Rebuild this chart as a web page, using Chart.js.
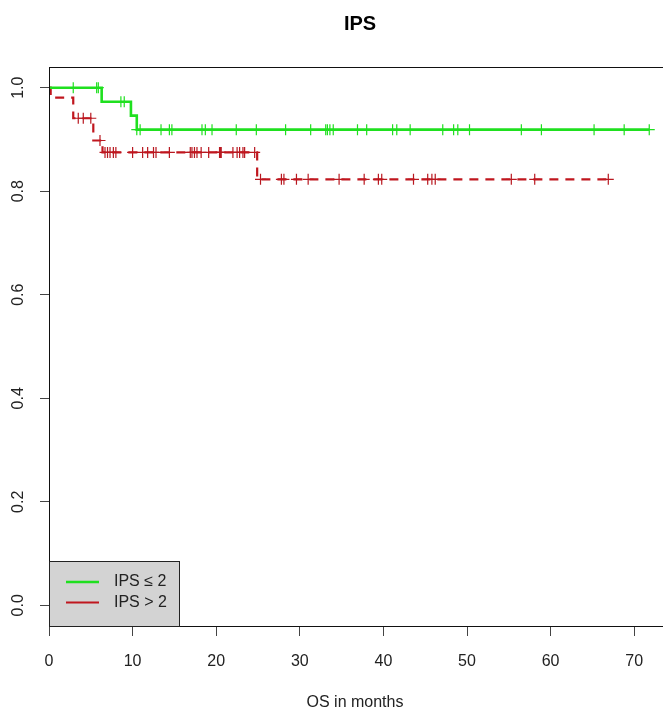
<!DOCTYPE html>
<html><head><meta charset="utf-8">
<script src="https://cdn.jsdelivr.net/npm/chart.js@4.4.1/dist/chart.umd.min.js"></script>
<style>
html,body{margin:0;padding:0;background:#fff;overflow:hidden;width:663px;height:713px}
#wrap{position:relative;width:700px;height:713px}
</style>
</head><body><div id="wrap"><canvas id="c" width="700" height="713"></canvas></div>
<script>
const chartTitle = "IPS";
const xAxisTitle = "OS in months";
const seriesNames = ["IPS \u2264 2", "IPS > 2"];
const xTicks = [0, 10, 20, 30, 40, 50, 60, 70];
const yTicks = [0, 0.2, 0.4, 0.6, 0.8, 1.0];
const yTickLabels = ["0.0", "0.2", "0.4", "0.6", "0.8", "1.0"];

// IPS <= 2 : step points (event times and survival after)
const lowTimes = [0, 6.3, 9.8, 10.5, 71.8];
const lowSurv = [1, 0.973, 0.946, 0.919, 0.919];
const lowCensor = [2.9, 5.7, 5.9, 8.6, 9.0, 10.5, 10.9, 13.4, 14.4, 14.7, 18.3, 18.7, 19.5, 22.4, 24.8,
  28.3, 31.3, 33.1, 33.3, 33.6, 34.0, 36.9, 38.0, 41.1, 41.6, 43.2, 47.1, 48.4, 48.9, 50.3, 56.5, 58.9, 65.2, 68.8, 71.8];

// IPS > 2
const highTimes = [0, 0.2, 2.9, 5.3, 6.4, 24.9, 66.9];
const highSurv = [1, 0.981, 0.941, 0.898, 0.875, 0.823, 0.823];
const highCensor = [3.5, 4.1, 5.0, 6.1, 6.7, 7.0, 7.3, 7.7, 8.0, 10.0, 11.2, 11.8, 12.5, 12.8, 14.4,
  16.9, 17.1, 17.4, 17.7, 18.2, 19.1, 20.4, 20.5, 20.6, 22.0, 22.5, 22.8, 23.2, 23.4, 24.6,
  25.3, 27.8, 28.1, 29.6, 31.0, 34.7, 37.7, 39.4, 39.8, 43.6, 45.3, 45.8, 46.2, 55.3, 58.1, 66.9];

const greenCol = '#1fe01f';
const redCol = '#c0161e';

function survAt(times, surv, t) {
  let v = surv[0];
  for (let i = 0; i < times.length; i++) { if (times[i] <= t) v = surv[i]; }
  return v;
}
const toPts = (xs, ys) => xs.map((x, i) => ({x: x, y: ys[i]}));
const censorPts = (cs, times, surv) => cs.map(t => ({x: t, y: survAt(times, surv, t)}));

const FONT = '"Liberation Sans", Arial, sans-serif';

const decor = {
  id: 'decor',
  afterDraw(chart) {
    const ctx = chart.ctx, a = chart.chartArea;
    const xs = chart.scales.x, ys = chart.scales.y;
    ctx.save();
    // box
    ctx.strokeStyle = '#111';
    ctx.lineWidth = 1;
    ctx.strokeRect(a.left + 0.5, a.top + 0.5, a.right - a.left, a.bottom - a.top);
    // title
    ctx.fillStyle = '#000';
    ctx.font = 'bold 20px ' + FONT;
    ctx.textAlign = 'center';
    ctx.textBaseline = 'middle';
    ctx.fillText(chartTitle, 360, 24);
    // x tick labels
    ctx.fillStyle = '#222';
    ctx.font = '16px ' + FONT;
    xTicks.forEach(v => ctx.fillText(String(v), xs.getPixelForValue(v), 662));
    // x title
    ctx.fillText(xAxisTitle, 355, 703);
    // y tick labels rotated
    yTicks.forEach((v, i) => {
      ctx.save();
      ctx.translate(18.5, ys.getPixelForValue(v));
      ctx.rotate(-Math.PI / 2);
      ctx.fillText(yTickLabels[i], 0, 0);
      ctx.restore();
    });
    // legend
    const lx = a.left, ly = a.bottom - 65, lw = 130, lh = 65;
    ctx.fillStyle = '#d3d3d3';
    ctx.fillRect(lx, ly, lw, lh);
    ctx.strokeStyle = '#222';
    ctx.strokeRect(lx + 0.5, ly + 0.5, lw, lh);
    const cols = [greenCol, redCol];
    const widths = [2.5, 2.2];
    seriesNames.forEach((n, i) => {
      const yy = ly + 21 + i * 20.5;
      ctx.strokeStyle = cols[i];
      ctx.lineWidth = widths[i];
      ctx.beginPath(); ctx.moveTo(lx + 17, yy); ctx.lineTo(lx + 50, yy); ctx.stroke();
      ctx.fillStyle = '#222';
      ctx.font = '16px ' + FONT;
      ctx.textAlign = 'left';
      ctx.fillText(n, lx + 65, yy);
    });
    ctx.restore();
  }
};

new Chart(document.getElementById('c'), {
  type: 'line',
  data: {
    datasets: [
      { label: seriesNames[0], data: toPts(lowTimes, lowSurv), stepped: true, borderColor: greenCol,
        borderWidth: 2.6, pointRadius: 0, fill: false },
      { label: seriesNames[1], data: toPts(highTimes, highSurv), stepped: true, borderColor: redCol,
        borderWidth: 2.2, borderDash: [9, 7], pointRadius: 0, fill: false },
      { type: 'scatter', label: 'c1', data: censorPts(lowCensor, lowTimes, lowSurv), showLine: false,
        pointStyle: 'cross', pointRadius: 5.5, borderColor: greenCol, backgroundColor: greenCol, borderWidth: 1.2 },
      { type: 'scatter', label: 'c2', data: censorPts(highCensor, highTimes, highSurv), showLine: false,
        pointStyle: 'cross', pointRadius: 5.5, borderColor: '#b81820', backgroundColor: '#b81820', borderWidth: 1.2 }
    ]
  },
  options: {
    responsive: false,
    animation: false,
    devicePixelRatio: 1,
    layout: { padding: { top: 67, right: 25, left: 0, bottom: 0 } },
    plugins: { legend: { display: false }, tooltip: { enabled: false }, title: { display: false } },
    scales: {
      x: {
        type: 'linear', min: 0, max: 74.88,
        afterBuildTicks: s => { s.ticks = xTicks.map(v => ({value: v})); },
        afterFit: s => { s.height = 87; },
        ticks: { display: false },
        grid: { drawOnChartArea: false, drawTicks: true, tickLength: 10, color: '#444', lineWidth: 1 },
        border: { display: false }
      },
      y: {
        type: 'linear', min: -0.04, max: 1.04,
        afterBuildTicks: s => { s.ticks = yTicks.map(v => ({value: v})); },
        afterFit: s => { s.width = 49; },
        ticks: { display: false },
        grid: { drawOnChartArea: false, drawTicks: true, tickLength: 9, color: '#444', lineWidth: 1 },
        border: { display: false }
      }
    }
  },
  plugins: [decor]
});
</script>
</body></html>
